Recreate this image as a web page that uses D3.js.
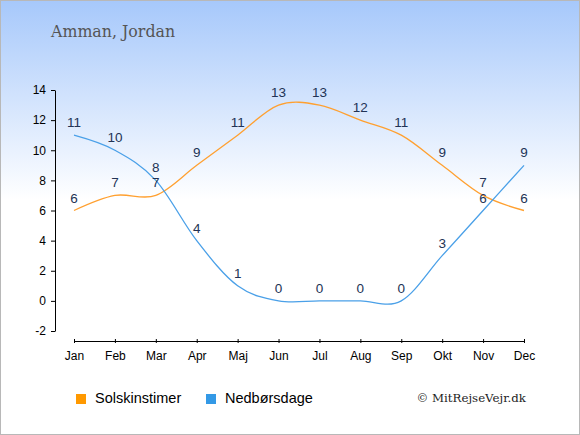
<!DOCTYPE html>
<html>
<head>
<meta charset="utf-8">
<script src="https://cdn.jsdelivr.net/npm/d3@7"></script>
<style>
  body { margin: 0; }
  svg { display: block; }
</style>
</head>
<body>
<svg id="chart" width="580" height="435"></svg>
<script>
const months = ['Jan', 'Feb', 'Mar', 'Apr', 'Maj', 'Jun', 'Jul', 'Aug', 'Sep', 'Okt', 'Nov', 'Dec']
const sunHours = [6, 7, 7, 9, 11, 13, 13, 12, 11, 9, 7, 6]
const rainDays = [11, 10, 8, 4, 1, 0, 0, 0, 0, 3, 6, 9]
const yTicks = [-2, 0, 2, 4, 6, 8, 10, 12, 14]
const seriesNames = ['Solskinstimer', 'Nedbørsdage']
const seriesColors = ['#ffa030', '#4aa0e8']
const legendColors = ['#ff9900', '#3399e6']

const width = 580
const height = 435
const svg = d3.select('#chart')

// background with gradient
const defs = svg.append('defs')
const grad = defs.append('linearGradient')
    .attr('id', 'bg')
    .attr('x1', 0).attr('y1', 0).attr('x2', 0).attr('y2', 1)
grad.append('stop').attr('offset', '0%').attr('stop-color', '#a6c8fb')
grad.append('stop').attr('offset', '46%').attr('stop-color', '#ffffff')
grad.append('stop').attr('offset', '100%').attr('stop-color', '#ffffff')

svg.append('rect')
    .attr('width', width)
    .attr('height', height)
    .attr('fill', 'url(#bg)')
svg.append('rect')
    .attr('x', 0.5).attr('y', 0.5)
    .attr('width', width - 1)
    .attr('height', height - 1)
    .attr('fill', 'none')
    .attr('stroke', '#b8b8b8')

svg.append('text')
    .text('Amman, Jordan')
    .attr('x', 51)
    .attr('y', 37)
    .attr('font-family', '"DejaVu Serif", "Liberation Serif", serif')
    .attr('font-size', 15.8)
    .attr('fill', '#555')

// scales
const xScale = d3.scalePoint()
    .domain(months)
    .range([74, 524])

const yScale = d3.scaleLinear()
    .domain([-2, 14])
    .range([331, 90])

// axes
const yAxis = svg.append('g')
    .attr('transform', 'translate(55,0)')
    .call(d3.axisLeft(yScale).tickValues(yTicks).tickFormat(d => String(d)).tickSize(4).tickSizeOuter(0))
yAxis.selectAll('text')
    .attr('font-family', '"Liberation Sans", Arial, sans-serif')
    .attr('font-size', 12)
    .attr('fill', '#000')
    .attr('dx', -2)

const xAxis = svg.append('g')
    .attr('transform', 'translate(0,341)')
    .call(d3.axisBottom(xScale).tickSize(4).tickSizeOuter(0))
xAxis.selectAll('.tick line').attr('y1', -2).attr('y2', 2)
xAxis.selectAll('text')
    .attr('font-family', '"Liberation Sans", Arial, sans-serif')
    .attr('font-size', 12)
    .attr('fill', '#000')
    .attr('dy', '1.0em')
svg.selectAll('.domain').attr('stroke', '#000')
svg.selectAll('.tick line').attr('stroke', '#000')

// lines
const line = d3.line()
    .x((d, i) => xScale(months[i]))
    .y(d => yScale(d))
    .curve(d3.curveCardinal)

const allSeries = [sunHours, rainDays]
allSeries.forEach((values, s) => {
  svg.append('path')
      .datum(values)
      .attr('d', line)
      .attr('fill', 'none')
      .attr('stroke', seriesColors[s])
      .attr('stroke-width', 1.3)
})

// value labels
allSeries.forEach(values => {
  svg.append('g').selectAll('text')
      .data(values)
      .join('text')
      .text(d => d)
      .attr('x', (d, i) => xScale(months[i]))
      .attr('y', d => yScale(d) - 8)
      .attr('text-anchor', 'middle')
      .attr('font-family', '"Liberation Sans", Arial, sans-serif')
      .attr('font-size', 13.5)
      .attr('fill', '#223355')
})

// legend
const legendX = [76, 206]
seriesNames.forEach((name, i) => {
  svg.append('rect')
      .attr('x', legendX[i])
      .attr('y', 394)
      .attr('width', 10)
      .attr('height', 10)
      .attr('fill', legendColors[i])
  svg.append('text')
      .text(name)
      .attr('x', legendX[i] + 19)
      .attr('y', 403)
      .attr('font-family', '"Liberation Sans", Arial, sans-serif')
      .attr('font-size', 14.5)
      .attr('fill', '#000')
})

svg.append('text')
    .text('© MitRejseVejr.dk')
    .attr('x', 526)
    .attr('y', 402)
    .attr('text-anchor', 'end')
    .attr('font-family', '"DejaVu Serif", "Liberation Serif", serif')
    .attr('font-size', 11.8)
    .attr('fill', '#222')
</script>
</body>
</html>
